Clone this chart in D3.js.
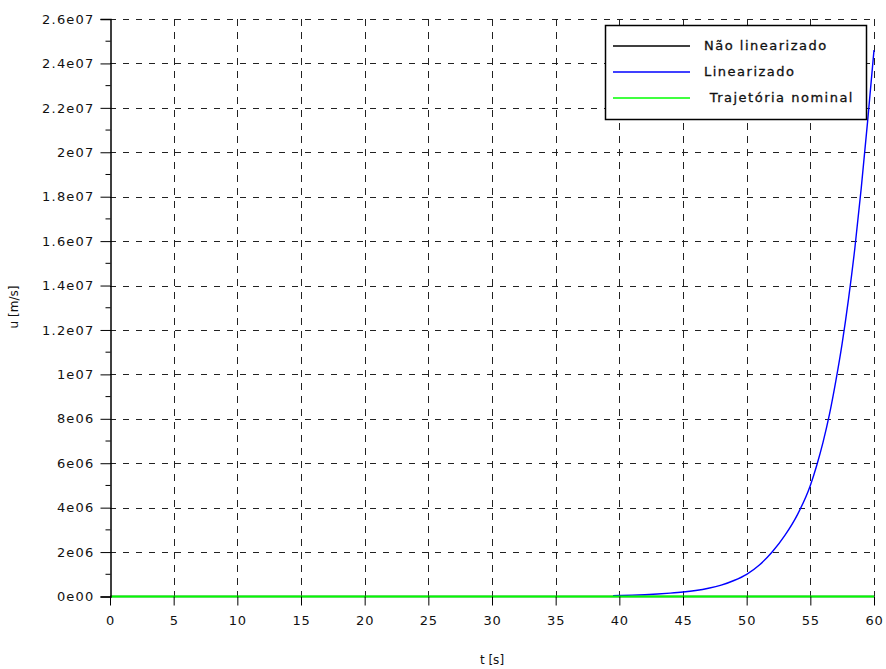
<!DOCTYPE html>
<html>
<head>
<meta charset="utf-8">
<script src="https://cdn.jsdelivr.net/npm/d3@7"></script>
<style>
  body { margin: 0; background: #fff; }
  svg { display: block; }
  text { font-family: "DejaVu Sans", sans-serif; fill: #111; }
</style>
</head>
<body>
<div class="chart"></div>
<script>
// values
const tBlue = [39.5, 40, 41, 42, 43, 44, 45, 46, 47, 48, 49, 50, 51, 52, 53, 54, 55, 55.5, 56, 56.5, 57, 57.5, 58, 58.5, 59, 59.5, 60]
const uBlue = [0.04e6, 0.045e6, 0.06e6, 0.08e6, 0.11e6, 0.15e6, 0.2e6, 0.27e6, 0.37e6, 0.51e6, 0.72e6, 1.0e6, 1.42e6, 2.0e6, 2.75e6, 3.7e6, 5.0e6, 5.9e6, 6.95e6, 8.2e6, 9.7e6, 11.4e6, 13.4e6, 15.7e6, 18.4e6, 21.4e6, 24.6e6]
const tBlack = [0, 60]
const uBlack = [0, 0]
const tGreen = [0, 60]
const uGreen = [0, 0]

const xTicks = [0, 5, 10, 15, 20, 25, 30, 35, 40, 45, 50, 55, 60]
const yTicks = [0, 2e6, 4e6, 6e6, 8e6, 1e7, 1.2e7, 1.4e7, 1.6e7, 1.8e7, 2e7, 2.2e7, 2.4e7, 2.6e7]
const yTickLabels = ['0e00', '2e06', '4e06', '6e06', '8e06', '1e07', '1.2e07', '1.4e07', '1.6e07', '1.8e07', '2e07', '2.2e07', '2.4e07', '2.6e07']
const yMinor = [1e6, 3e6, 5e6, 7e6, 9e6, 1.1e7, 1.3e7, 1.5e7, 1.7e7, 1.9e7, 2.1e7, 2.3e7, 2.5e7]

const legendLabels = ['Não linearizado', 'Linearizado', ' Trajetória nominal']
const colors = ['#000000', '#0000ff', '#00ff00']

const width = 886, height = 669
const svg = d3.select(".chart").append("svg")
  .attr("width", width)
  .attr("height", height)

const x = d3.scaleLinear().domain([0, 60]).range([110, 874])
const y = d3.scaleLinear().domain([0, 2.6e7]).range([596.5, 19])

//grid
const grid = svg.append("g")
  .attr("stroke", "#222")
  .attr("stroke-width", 1)
grid.selectAll("line.h")
  .data(yTicks.slice(1))
  .join("line")
    .attr("class", "h")
    .attr("x1", x(0)).attr("x2", x(60))
    .attr("y1", d => Math.round(y(d)) + 0.5).attr("y2", d => Math.round(y(d)) + 0.5)
    .attr("stroke-dasharray", "6,7")
grid.selectAll("line.v")
  .data(xTicks.slice(1))
  .join("line")
    .attr("class", "v")
    .attr("y1", y(2.6e7)).attr("y2", y(0))
    .attr("x1", d => Math.round(x(d)) + 0.5).attr("x2", d => Math.round(x(d)) + 0.5)
    .attr("stroke-dasharray", "7,6")

//lines
const line = d3.line().x(d => x(d[0])).y(d => y(d[1])).curve(d3.curveMonotoneX)
svg.append("path")
  .attr("d", line(d3.zip(tBlack, uBlack)))
  .attr("fill", "none").attr("stroke", colors[0]).attr("stroke-width", 1.5)
svg.append("path")
  .attr("d", line(d3.zip(tBlue, uBlue)))
  .attr("fill", "none").attr("stroke", colors[1]).attr("stroke-width", 1.4)
svg.append("path")
  .attr("d", line(d3.zip(tGreen, uGreen)))
  .attr("fill", "none").attr("stroke", colors[2]).attr("stroke-width", 2)

//y axis
const yAxis = d3.axisLeft(y)
  .tickValues(yTicks)
  .tickFormat((d, i) => yTickLabels[i])
  .tickSize(10)
  .tickPadding(6)
const gy = svg.append("g")
  .attr("transform", "translate(110.5,0)")
  .call(yAxis)
gy.select(".domain").attr("stroke", "#000").attr("stroke-width", 1.5)
gy.selectAll(".tick line").attr("stroke", "#000")
gy.selectAll(".tick text")
  .attr("font-family", '"DejaVu Sans", sans-serif')
  .attr("font-size", 13)
  .attr("letter-spacing", 1.2)
  .attr("fill", "#222")
gy.selectAll("line.minor")
  .data(yMinor)
  .join("line")
    .attr("class", "minor")
    .attr("x1", -5).attr("x2", 0)
    .attr("y1", d => y(d)).attr("y2", d => y(d))
    .attr("stroke", "#000")

//x axis
const xAxis = d3.axisBottom(x)
  .tickValues(xTicks)
  .tickSize(9)
  .tickPadding(10)
const gx = svg.append("g")
  .attr("transform", `translate(0,${y(0)})`)
  .call(xAxis)
gx.select(".domain").remove()
gx.selectAll(".tick line").attr("stroke", "#000")
gx.selectAll(".tick text")
  .attr("font-family", '"DejaVu Sans", sans-serif')
  .attr("font-size", 13)
  .attr("letter-spacing", 0.8)
  .attr("fill", "#222")

//axis titles
svg.append("text")
  .attr("x", 492).attr("y", 664)
  .attr("text-anchor", "middle")
  .attr("font-size", 12)
  .text("t [s]")
svg.append("text")
  .attr("transform", "translate(18,307) rotate(-90)")
  .attr("text-anchor", "middle")
  .attr("font-size", 12)
  .text("u [m/s]")

//legend
const legend = svg.append("g")
legend.append("rect")
  .attr("x", 605.5).attr("y", 25.5)
  .attr("width", 261).attr("height", 94)
  .attr("fill", "#fff")
  .attr("stroke", "#000")
  .attr("stroke-width", 1.5)
const legendY = [46, 72, 98]
legend.selectAll("line")
  .data(legendLabels)
  .join("line")
    .attr("x1", 613).attr("x2", 690)
    .attr("y1", (d, i) => legendY[i]).attr("y2", (d, i) => legendY[i])
    .attr("stroke", (d, i) => colors[i])
    .attr("stroke-width", 1.5)
legend.selectAll("text")
  .data(legendLabels)
  .join("text")
    .attr("x", 704)
    .attr("y", (d, i) => legendY[i] + 4)
    .attr("font-size", 13)
    .attr("letter-spacing", 1.5)
    .attr("stroke", "#111")
    .attr("stroke-width", 0.3)
    .attr("xml:space", "preserve")
    .style("white-space", "pre")
    .text(d => d)
</script>
</body>
</html>
